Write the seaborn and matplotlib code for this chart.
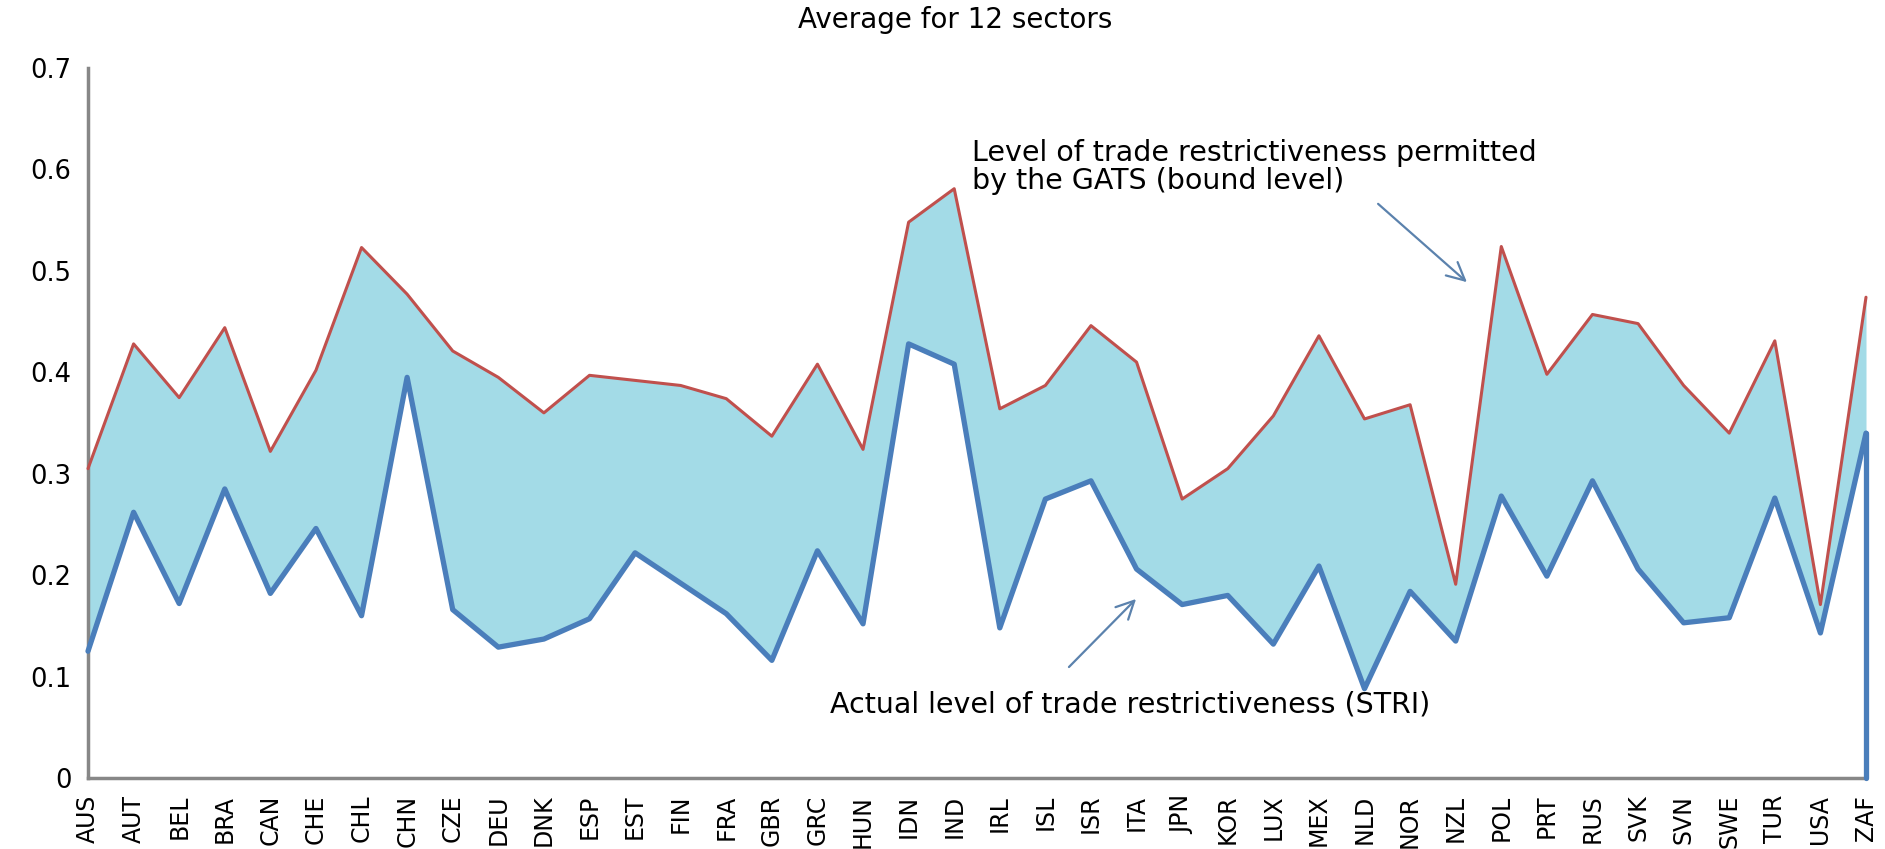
import matplotlib
matplotlib.use("Agg")
import matplotlib.pyplot as plt
import seaborn as sns
import numpy as np
import pandas as pd

# ---------------- data ----------------
countries = ["AUS", "AUT", "BEL", "BRA", "CAN", "CHE", "CHL", "CHN", "CZE", "DEU",
             "DNK", "ESP", "EST", "FIN", "FRA", "GBR", "GRC", "HUN", "IDN", "IND",
             "IRL", "ISL", "ISR", "ITA", "JPN", "KOR", "LUX", "MEX", "NLD", "NOR",
             "NZL", "POL", "PRT", "RUS", "SVK", "SVN", "SWE", "TUR", "USA", "ZAF"]

bound_level = [0.305, 0.428, 0.375, 0.444, 0.322, 0.402, 0.523, 0.477, 0.421, 0.395,
               0.360, 0.397, 0.392, 0.387, 0.374, 0.337, 0.408, 0.324, 0.548, 0.581,
               0.364, 0.387, 0.446, 0.410, 0.275, 0.305, 0.357, 0.436, 0.354, 0.368,
               0.191, 0.524, 0.398, 0.457, 0.448, 0.387, 0.340, 0.431, 0.171, 0.474]

stri_level = [0.125, 0.262, 0.172, 0.285, 0.182, 0.246, 0.160, 0.395, 0.166, 0.129,
              0.137, 0.157, 0.222, 0.192, 0.162, 0.116, 0.224, 0.152, 0.428, 0.408,
              0.148, 0.275, 0.293, 0.206, 0.171, 0.180, 0.132, 0.209, 0.088, 0.184,
              0.135, 0.278, 0.199, 0.293, 0.206, 0.153, 0.158, 0.276, 0.143, 0.340]

y_ticks = [0.0, 0.1, 0.2, 0.3, 0.4, 0.5, 0.6, 0.7]
y_tick_labels = ["0", "0.1", "0.2", "0.3", "0.4", "0.5", "0.6", "0.7"]

title_text = "Average for 12 sectors"
bound_label = "Level of trade restrictiveness permitted\nby the GATS (bound level)"
stri_label = "Actual level of trade restrictiveness (STRI)"

# ---------------- style ----------------
sns.set_style("white")
plt.rcParams["font.family"] = ["DejaVu Sans"]
plt.rcParams["text.color"] = "black"

W, H = 1885, 849
fig = plt.figure(figsize=(W / 100, H / 100), dpi=100)
ax = fig.add_axes([88 / W, 1 - 778 / H, (1866 - 88) / W, (778 - 68) / H])

df = pd.DataFrame({"pos": np.arange(len(countries)), "country": countries,
                   "bound": bound_level, "stri": stri_level})

red = "#c0504d"
blue = "#4a7ebb"
axis_grey = "#878787"

ax.fill_between(df["pos"], df["stri"], df["bound"], color="#a3dbe7",
                linewidth=0, zorder=1)
sns.lineplot(data=df, x="pos", y="bound", color=red, linewidth=2.2, ax=ax,
             zorder=3, clip_on=False)
sns.lineplot(data=df, x="pos", y="stri", color=blue, linewidth=3.8, ax=ax,
             zorder=4, clip_on=False)
# area edge dropping to the axis at the last category
last = df.iloc[-1]
ax.plot([last["pos"], last["pos"]], [last["stri"], 0], color=blue,
        linewidth=3.8, zorder=4, clip_on=False)

ax.set_xlim(df["pos"].min(), df["pos"].max())
ax.set_ylim(0, 0.7)
ax.set_xticks(df["pos"])
ax.set_xticklabels(df["country"], rotation=90)
ax.set_yticks(y_ticks)
ax.set_yticklabels(y_tick_labels)
ax.set_xlabel("")
ax.set_ylabel("")

for s in ["top", "right"]:
    ax.spines[s].set_visible(False)
for s in ["left", "bottom"]:
    ax.spines[s].set_color(axis_grey)
    ax.spines[s].set_linewidth(2.5)
ax.tick_params(axis="both", direction="out", length=8, width=2,
               color=axis_grey, labelcolor="black", pad=4)
ax.tick_params(axis="y", labelsize=18.5)
ax.tick_params(axis="x", labelsize=17)

fig.text(955 / W, 1 - 20 / H, title_text, ha="center", va="center",
         fontsize=20, color="black")

fig.text(972 / W, 1 - 167 / H, bound_label, ha="left", va="center",
         fontsize=20.5, linespacing=1.0, color="black")
fig.text(830 / W, 1 - 705 / H, stri_label, ha="left", va="center",
         fontsize=20.5, color="black")

arrow_style = dict(arrowstyle="->", color="#5b82ad", lw=1.6, mutation_scale=32)
ax.annotate("", xy=(1469 / W, 1 - 284 / H), xytext=(1376 / W, 1 - 202 / H),
            xycoords="figure fraction", textcoords="figure fraction",
            arrowprops=arrow_style)
ax.annotate("", xy=(1138 / W, 1 - 597 / H), xytext=(1067 / W, 1 - 669 / H),
            xycoords="figure fraction", textcoords="figure fraction",
            arrowprops=arrow_style)

fig.savefig("out.png", dpi=100)
